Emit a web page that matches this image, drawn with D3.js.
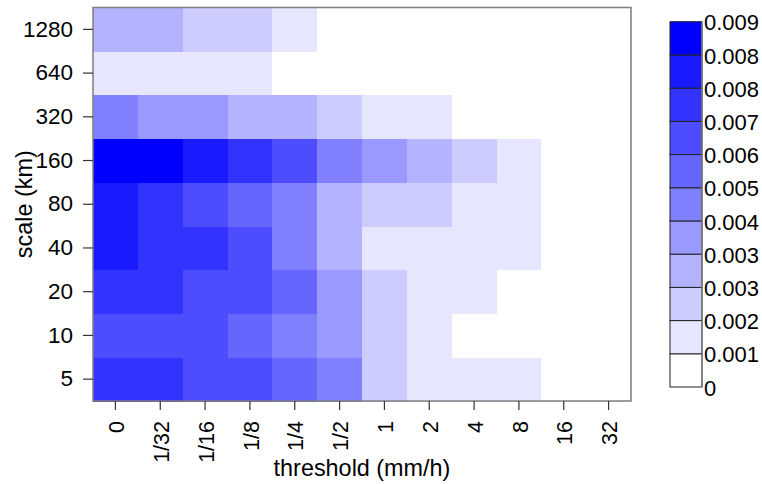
<!DOCTYPE html>
<html>
<head>
<meta charset="utf-8">
<script src="https://cdn.jsdelivr.net/npm/d3@7"></script>
<style>
  html, body { margin: 0; padding: 0; background: #fff; }
  svg { display: block; }
  text { font-family: "Liberation Sans", Arial, sans-serif; fill: #000; }
</style>
</head>
<body>
<svg id="chart" width="762" height="484"></svg>
<script>
// ---- data ----
const thresholds = ["0", "1/32", "1/16", "1/8", "1/4", "1/2", "1", "2", "4", "8", "16", "32"];
const scales = ["5", "10", "20", "40", "80", "160", "320", "640", "1280"];
const values5    = [0.0071, 0.0072, 0.0062, 0.0063, 0.0055, 0.0046, 0.0021, 0.0012, 0.0011, 0.0010, 0, 0];
const values10   = [0.0064, 0.0063, 0.0062, 0.0054, 0.0046, 0.0038, 0.0021, 0.0012, 0, 0, 0, 0];
const values20   = [0.0071, 0.0070, 0.0063, 0.0062, 0.0055, 0.0038, 0.0021, 0.0012, 0.0010, 0, 0, 0];
const values40   = [0.0080, 0.0071, 0.0070, 0.0063, 0.0046, 0.0029, 0.0012, 0.0011, 0.0011, 0.0010, 0, 0];
const values80   = [0.0079, 0.0071, 0.0063, 0.0054, 0.0046, 0.0029, 0.0021, 0.0020, 0.0012, 0.0011, 0, 0];
const values160  = [0.0092, 0.0088, 0.0079, 0.0071, 0.0063, 0.0046, 0.0038, 0.0029, 0.0021, 0.0012, 0, 0];
const values320  = [0.0046, 0.0038, 0.0037, 0.0029, 0.0029, 0.0021, 0.0012, 0.0011, 0, 0, 0, 0];
const values640  = [0.0012, 0.0012, 0.0011, 0.0011, 0, 0, 0, 0, 0, 0, 0, 0];
const values1280 = [0.0030, 0.0029, 0.0021, 0.0020, 0.0012, 0, 0, 0, 0, 0, 0, 0];
const rowValues = [values5, values10, values20, values40, values80, values160, values320, values640, values1280];
const valueMax = 0.0092;
const nLevels = 11;
const legendLabels = ["0", "0.001", "0.002", "0.003", "0.003", "0.004", "0.005", "0.006", "0.007", "0.008", "0.008", "0.009"];
const xTitle = "threshold (mm/h)";
const yTitle = "scale (km)";

// ---- layout ----
const svg = d3.select("#chart");
const plot = { left: 93, right: 631, top: 7.5, bottom: 401 };

const x = d3.scaleBand().domain(thresholds).range([plot.left, plot.right]).padding(0);
const y = d3.scaleBand().domain(scales).range([plot.bottom, plot.top]).padding(0);

const palette = d3.range(nLevels).map(i => d3.interpolateRgb("#ffffff", "#0000ff")(i / (nLevels - 1)));
const color = d3.scaleQuantize().domain([0, valueMax]).range(palette);

const cells = [];
scales.forEach((s, i) => {
  thresholds.forEach((t, j) => {
    cells.push({ s, t, v: rowValues[i][j] });
  });
});

svg.append("g").selectAll("rect").data(cells).join("rect")
  .attr("x", d => x(d.t))
  .attr("y", d => y(d.s))
  .attr("width", x.bandwidth() + 0.5)
  .attr("height", y.bandwidth() + 0.5)
  .attr("fill", d => color(d.v))
  .attr("shape-rendering", "crispEdges");

// frame
svg.append("rect")
  .attr("x", plot.left).attr("y", plot.top)
  .attr("width", plot.right - plot.left).attr("height", plot.bottom - plot.top)
  .attr("fill", "none").attr("stroke", "#7f7f7f").attr("stroke-width", 1.5);

// y axis
const yAxis = svg.append("g")
  .attr("transform", `translate(${plot.left},0)`)
  .call(d3.axisLeft(y).tickSize(10).tickPadding(10));
yAxis.select(".domain").remove();
yAxis.selectAll(".tick line").attr("stroke", "#333").attr("stroke-width", 1.2);
yAxis.selectAll(".tick text").attr("font-size", 22.5).attr("fill", "#000")
  .attr("font-family", "'Liberation Sans', Arial, sans-serif");

// x axis
const xAxis = svg.append("g")
  .attr("transform", `translate(0,${plot.bottom})`)
  .call(d3.axisBottom(x).tickSize(9));
xAxis.select(".domain").remove();
xAxis.selectAll(".tick line").attr("stroke", "#333").attr("stroke-width", 1.2);
xAxis.selectAll(".tick text")
  .attr("font-size", 21.5).attr("fill", "#000")
  .attr("font-family", "'Liberation Sans', Arial, sans-serif")
  .attr("transform", "rotate(-90)")
  .attr("text-anchor", "end")
  .attr("x", -20).attr("y", 0).attr("dy", "0.4em");

// axis titles
svg.append("text")
  .attr("x", (plot.left + plot.right) / 2).attr("y", 476)
  .attr("text-anchor", "middle").attr("font-size", 23.4)
  .text(xTitle);
svg.append("text")
  .attr("transform", `translate(32,${(plot.top + plot.bottom) / 2}) rotate(-90)`)
  .attr("text-anchor", "middle").attr("font-size", 23.4)
  .text(yTitle);

// color bar
const bar = { left: 670, right: 702, top: 21.7, bottom: 387 };
const levelIdx = d3.range(nLevels);
const yl = d3.scaleLinear().domain([0, nLevels]).range([bar.bottom, bar.top]);
svg.append("g").selectAll("rect").data(levelIdx).join("rect")
  .attr("x", bar.left)
  .attr("y", i => yl(i + 1))
  .attr("width", bar.right - bar.left)
  .attr("height", i => yl(i) - yl(i + 1))
  .attr("fill", i => palette[i])
  .attr("stroke", "#222").attr("stroke-width", 1);
svg.append("line")
  .attr("x1", bar.right).attr("x2", bar.right)
  .attr("y1", bar.top).attr("y2", bar.bottom)
  .attr("stroke", "#7f7f7f").attr("stroke-width", 1.5);
svg.append("g").selectAll("text").data(legendLabels).join("text")
  .attr("x", bar.right + 2)
  .attr("y", (d, i) => yl(i) + 1)
  .attr("dy", "0.35em")
  .attr("font-size", 22)
  .text(d => d);
</script>
</body>
</html>
